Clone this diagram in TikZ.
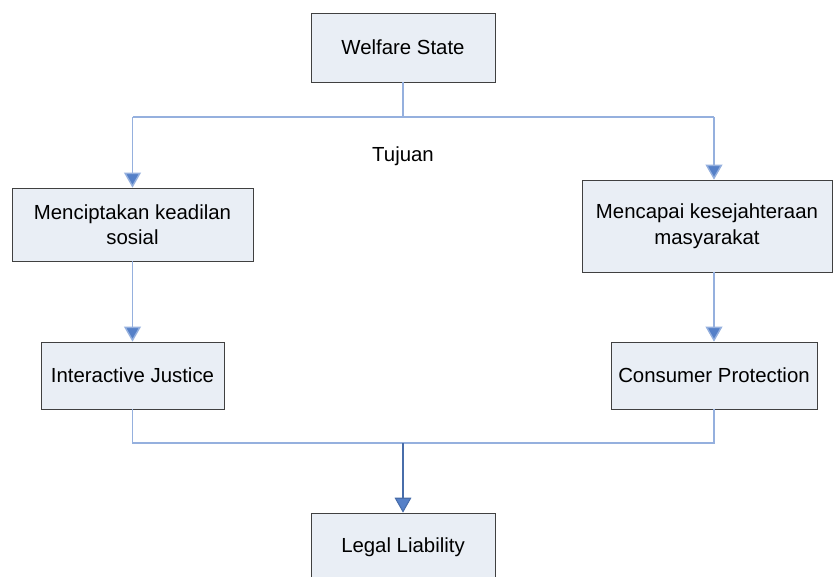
\documentclass[tikz,border=0pt]{standalone}
\usepackage{fontspec}
\setmainfont{Liberation Sans}
\usetikzlibrary{arrows.meta}
\definecolor{boxfill}{HTML}{E9EEF5}
\definecolor{boxline}{HTML}{404040}
\definecolor{linkline}{HTML}{95B0DE}
\definecolor{tipblue}{HTML}{5580C8}
\begin{document}
\begin{tikzpicture}[x=0.02cm, y=-0.02cm,
    kotak/.style={draw=boxline, fill=boxfill, align=center, inner sep=0pt,
        font=\fontsize{11.6}{14.5}\selectfont},
    garis/.style={draw=linkline, line width=0.8pt},
    panah/.style={garis, -{Triangle[width=9.5pt, length=8.5pt, fill=tipblue]}}]
    \useasboundingbox (0,0) rectangle (833,576);

    % Kotak-kotak
    \node[kotak, minimum width=184*0.02cm, minimum height=69*0.02cm] (welfare) at (403,47.5) {Welfare State};
    \node[kotak, minimum width=241*0.02cm, minimum height=73*0.02cm] (keadilan) at (132.5,224.5) {Menciptakan keadilan\\sosial};
    \node[kotak, minimum width=250*0.02cm, minimum height=92*0.02cm] (sejahtera) at (707,226) {Mencapai kesejahteraan\\masyarakat};
    \node[kotak, minimum width=183*0.02cm, minimum height=67*0.02cm] (justice) at (132.5,375.5) {Interactive Justice};
    \node[kotak, minimum width=206*0.02cm, minimum height=67*0.02cm] (consumer) at (714,375.5) {Consumer Protection};
    \node[kotak, minimum width=184*0.02cm, minimum height=69*0.02cm] (liability) at (403,547.5) {};
    \node[font=\fontsize{11.6}{14.5}\selectfont] (liabilitytext) at (403,547) {Legal Liability};

    % Percabangan atas
    \coordinate (atas) at (403,117);
    \coordinate (kiri) at (132.5,117);
    \coordinate (kanan) at (714,117);
    \draw[garis] (welfare.south) -- (atas);
    \draw[garis] (kiri) -- (kanan);
    \draw[panah] (kiri) -- (keadilan.north);
    \draw[panah] (kanan) -- (kanan |- sejahtera.north);
    \node[font=\fontsize{11.6}{14.5}\selectfont] (tujuan) at (403,156) {Tujuan};

    % Turun ke level berikut
    \draw[panah] (keadilan.south) -- (justice.north);
    \draw[panah] (sejahtera.south -| consumer.north) -- (consumer.north);

    % Pertemuan bawah
    \coordinate (bawah) at (403,443);
    \draw[garis] (justice.south) -- (justice.south |- bawah) -- (consumer.south |- bawah) -- (consumer.south);
    \draw[panah, draw=tipblue!85!black, line width=0.6pt] (bawah) -- (liability.north);
\end{tikzpicture}
\end{document}
